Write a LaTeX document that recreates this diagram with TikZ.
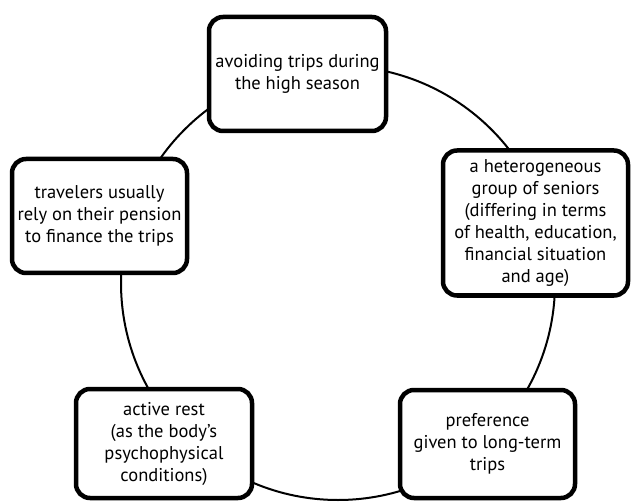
\documentclass[tikz,border=0pt]{standalone}
\usepackage{fontspec}
\setmainfont{PT Sans}

\begin{document}
\begin{tikzpicture}[x=1pt,y=-1pt,
        ring/.style={line width=2pt},
        trait/.style={draw=black, fill=white, line width=4.5pt, rounded corners=14pt,
            align=center, inner sep=0pt, font=\fontsize{18.5}{22}\selectfont}]

    \useasboundingbox (0,0) rectangle (631,502);

    \coordinate (mid) at (338,283);
    \draw[ring] (mid) circle (217pt);

    \node[trait, minimum width=177pt, minimum height=114pt] (season) at (297.5,74) {avoiding trips during\\the high season};
    \node[trait, minimum width=175pt, minimum height=114pt] (pension) at (99.5,216) {travelers usually\\rely on their pension\\to finance the trips};
    \node[trait, minimum width=185pt, minimum height=145pt] (seniors) at (535.5,223) {a heterogeneous\\group of seniors\\(differing in terms\\of health, education,\\financial situation\\and age)};
    \node[trait, minimum width=176pt, minimum height=109pt] (rest) at (164,443.5) {active rest\\(as the body’s\\psychophysical\\conditions)};
    \node[trait, minimum width=175pt, minimum height=108pt] (longterm) at (487.5,444) {preference\\given to long-term\\trips};

\end{tikzpicture}
\end{document}
